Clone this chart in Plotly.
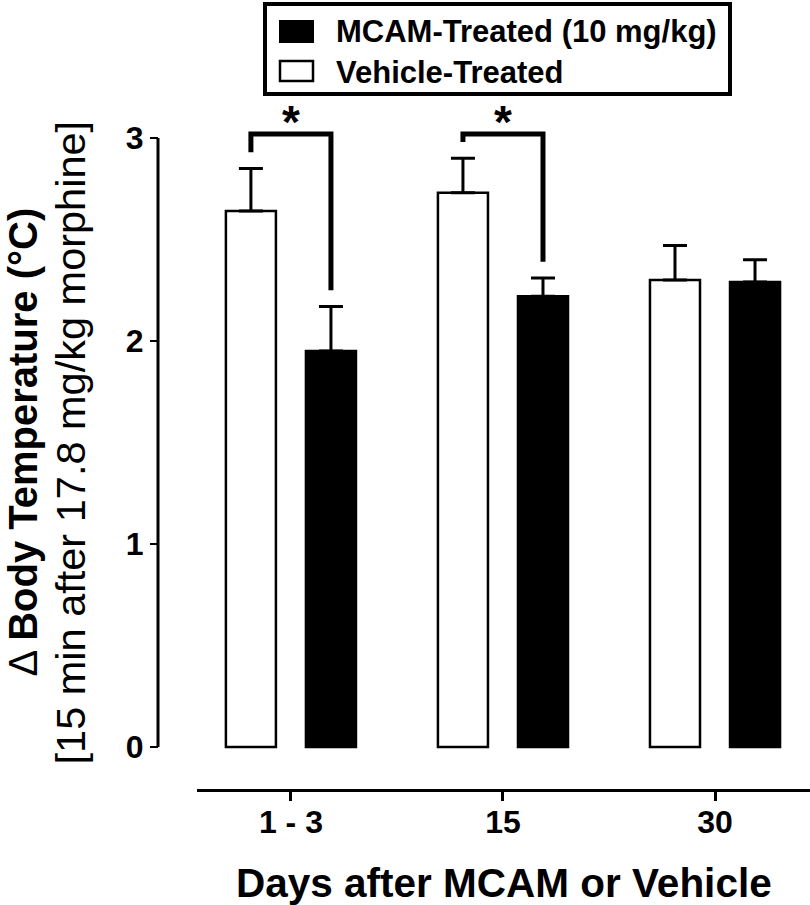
import plotly.graph_objects as go

# ---------------- data ----------------
categories = ["1 - 3", "15", "30"]
vehicle_mean = [2.64, 2.73, 2.30]
vehicle_sem = [0.21, 0.17, 0.17]
mcam_mean = [1.95, 2.22, 2.29]
mcam_sem = [0.22, 0.09, 0.11]
y_ticks = [0, 1, 2, 3]
sig_groups = [0, 1]          # groups with a significance bracket
sig_label = "*"
legend_labels = ["MCAM-Treated (10 mg/kg)", "Vehicle-Treated"]
x_title = "Days after MCAM or Vehicle"
y_title_1 = "\u0394 <b>Body Temperature (\u00b0C)</b>"
y_title_2 = "[15 min after 17.8 mg/kg morphine]"

# ---------------- layout geometry ----------------
W, H = 810, 905
L, R, T, B = 158, 0, 100, 116
plot_w = W - L - R
plot_h = H - T - B
y_range = [-0.207, 3.187]
x_range = [-0.443, 2.448]
x_dom_start = (197 - L) / plot_w
bargap = 0.245
bargroupgap = 0.375
bar_offset = (1 - bargap) / 4.0

FONT = "Liberation Sans, Arial, Helvetica, sans-serif"


def px_x(px):
    return (px - L) / plot_w


def px_y(py):
    return (H - B - py) / plot_h


def data_y_to_paper(v):
    return (v - y_range[0]) / (y_range[1] - y_range[0])


xs = list(range(len(categories)))

fig = go.Figure()
fig.add_trace(go.Bar(
    x=xs, y=vehicle_mean, name=legend_labels[1],
    marker=dict(color="white", line=dict(color="black", width=2.5)),
    error_y=dict(type="data", array=vehicle_sem, arrayminus=[0] * len(xs),
                 symmetric=False, color="black", thickness=3, width=12),
    showlegend=False, hoverinfo="skip",
))
fig.add_trace(go.Bar(
    x=xs, y=mcam_mean, name=legend_labels[0],
    marker=dict(color="black", line=dict(color="black", width=2.5)),
    error_y=dict(type="data", array=mcam_sem, arrayminus=[0] * len(xs),
                 symmetric=False, color="black", thickness=3, width=12),
    showlegend=False, hoverinfo="skip",
))

shapes = []
annotations = []

# y axis line (only from 0 to 3)
shapes.append(dict(type="line", xref="paper", yref="paper",
                   x0=0, x1=0,
                   y0=data_y_to_paper(y_ticks[0]), y1=data_y_to_paper(y_ticks[-1]),
                   line=dict(color="black", width=3)))

# significance brackets
bracket_top = 3.02
gap = 0.08
for g in sig_groups:
    xl = g - bar_offset
    xr = g + bar_offset
    yl = vehicle_mean[g] + vehicle_sem[g] + gap
    yr = mcam_mean[g] + mcam_sem[g] + gap
    path = f"M {xl},{yl} L {xl},{bracket_top} L {xr},{bracket_top} L {xr},{yr}"
    shapes.append(dict(type="path", xref="x", yref="y", path=path,
                       line=dict(color="black", width=5)))
    annotations.append(dict(x=g, y=bracket_top, xref="x", yref="y",
                            text=f"<b>{sig_label}</b>", showarrow=False,
                            yanchor="bottom", yshift=-16,
                            font=dict(family=FONT, size=46, color="black")))

# legend box
shapes.append(dict(type="rect", xref="paper", yref="paper",
                   x0=px_x(265), x1=px_x(730), y0=px_y(94), y1=px_y(4),
                   line=dict(color="black", width=4), fillcolor="white",
                   layer="below"))
# legend symbols
shapes.append(dict(type="rect", xref="paper", yref="paper",
                   x0=px_x(280), x1=px_x(313), y0=px_y(42), y1=px_y(21),
                   line=dict(color="black", width=2), fillcolor="black"))
shapes.append(dict(type="rect", xref="paper", yref="paper",
                   x0=px_x(280), x1=px_x(313), y0=px_y(81), y1=px_y(61),
                   line=dict(color="black", width=2.5), fillcolor="white"))
annotations.append(dict(x=px_x(334), y=px_y(32), xref="paper", yref="paper",
                        text=f"<b>{legend_labels[0]}</b>", showarrow=False,
                        xanchor="left", yanchor="middle",
                        font=dict(family=FONT, size=31, color="black")))
annotations.append(dict(x=px_x(334), y=px_y(72), xref="paper", yref="paper",
                        text=f"<b>{legend_labels[1]}</b>", showarrow=False,
                        xanchor="left", yanchor="middle",
                        font=dict(family=FONT, size=31, color="black")))

# axis titles
annotations.append(dict(x=(x_dom_start + 1) / 2, y=px_y(883), xref="paper", yref="paper",
                        text=f"<b>{x_title}</b>", showarrow=False,
                        xanchor="center", yanchor="middle",
                        font=dict(family=FONT, size=40.5, color="black")))
y_mid = data_y_to_paper((y_ticks[0] + y_ticks[-1]) / 2)
annotations.append(dict(x=px_x(23), y=y_mid, xref="paper", yref="paper",
                        text=y_title_1, showarrow=False, textangle=-90,
                        xanchor="center", yanchor="middle",
                        font=dict(family=FONT, size=40, color="black")))
annotations.append(dict(x=px_x(70), y=y_mid, xref="paper", yref="paper",
                        text=y_title_2, showarrow=False, textangle=-90,
                        xanchor="center", yanchor="middle",
                        font=dict(family=FONT, size=41.5, color="black")))

fig.update_layout(
    width=W, height=H,
    margin=dict(l=L, r=R, t=T, b=B, pad=0),
    paper_bgcolor="white", plot_bgcolor="white",
    barmode="group", bargap=bargap, bargroupgap=bargroupgap,
    shapes=shapes, annotations=annotations,
    showlegend=False, hovermode=False,
    xaxis=dict(domain=[x_dom_start, 1], range=x_range, tickvals=xs,
               ticktext=categories, showline=True, linecolor="black",
               linewidth=3, ticks="outside", ticklen=9, tickwidth=3,
               tickcolor="black", showgrid=False, zeroline=False,
               ticklabelstandoff=-6,
               tickfont=dict(family=FONT, size=32, color="black", weight="bold")),
    yaxis=dict(anchor="free", position=0, range=y_range, tickvals=y_ticks,
               showline=False, ticks="outside", ticklen=8, tickwidth=2.5,
               tickcolor="black", showgrid=False, zeroline=False,
               tickfont=dict(family=FONT, size=32, color="black", weight="bold")),
)

fig.write_html("out.html", config={"displayModeBar": False, "staticPlot": True},
               post_script="document.body.style.margin='0px';document.body.style.overflow='hidden';")
